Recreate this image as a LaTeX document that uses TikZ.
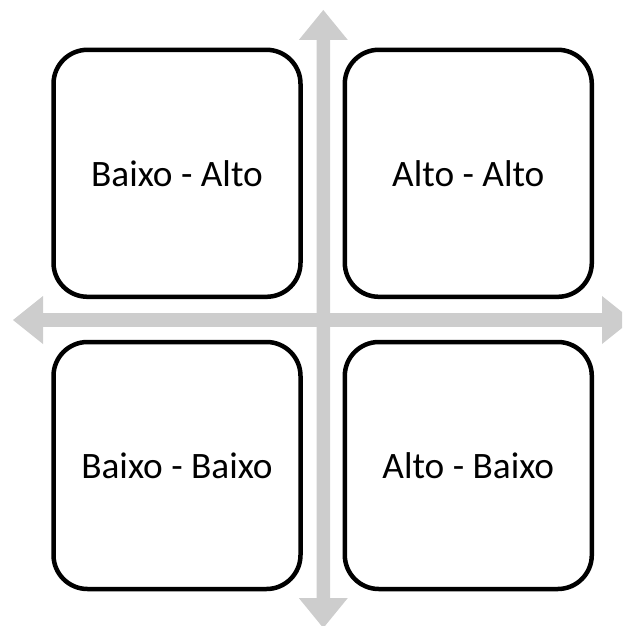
\documentclass[tikz,border=0pt]{standalone}
\usepackage{fontspec}
\setmainfont{Carlito}
\definecolor{axisgray}{RGB}{205,205,205}
\begin{document}
\begin{tikzpicture}[x=1pt,y=-1pt,
  quad/.style={draw=black,line width=4.5pt,rounded corners=34pt,
    minimum width=247pt,minimum height=247pt,inner sep=0pt,
    font=\fontsize{37.3}{40}\selectfont}]
\useasboundingbox (0,0) rectangle (622,626);
\clip (0,0) rectangle (622,626);
% horizontal axis (double-headed)
\fill[axisgray] (13,320) -- (43,296) -- (43,313.2) -- (602,313.2) -- (602,296)
  -- (632,320) -- (602,344) -- (602,326.8) -- (43,326.8) -- (43,344) -- cycle;
% vertical axis (double-headed)
\fill[axisgray] (323.3,10) -- (347.8,40) -- (330,40) -- (330,598) -- (347.8,598)
  -- (323.3,628) -- (298.8,598) -- (316.6,598) -- (316.6,40) -- (298.8,40) -- cycle;
% quadrants
\node[quad] (tl) at (177,173.3) {Baixo - Alto};
\node[quad] (tr) at (468.3,173.3) {Alto - Alto};
\node[quad] (bl) at (177,465.5) {Baixo - Baixo};
\node[quad] (br) at (468.3,465.5) {Alto - Baixo};
\end{tikzpicture}
\end{document}
